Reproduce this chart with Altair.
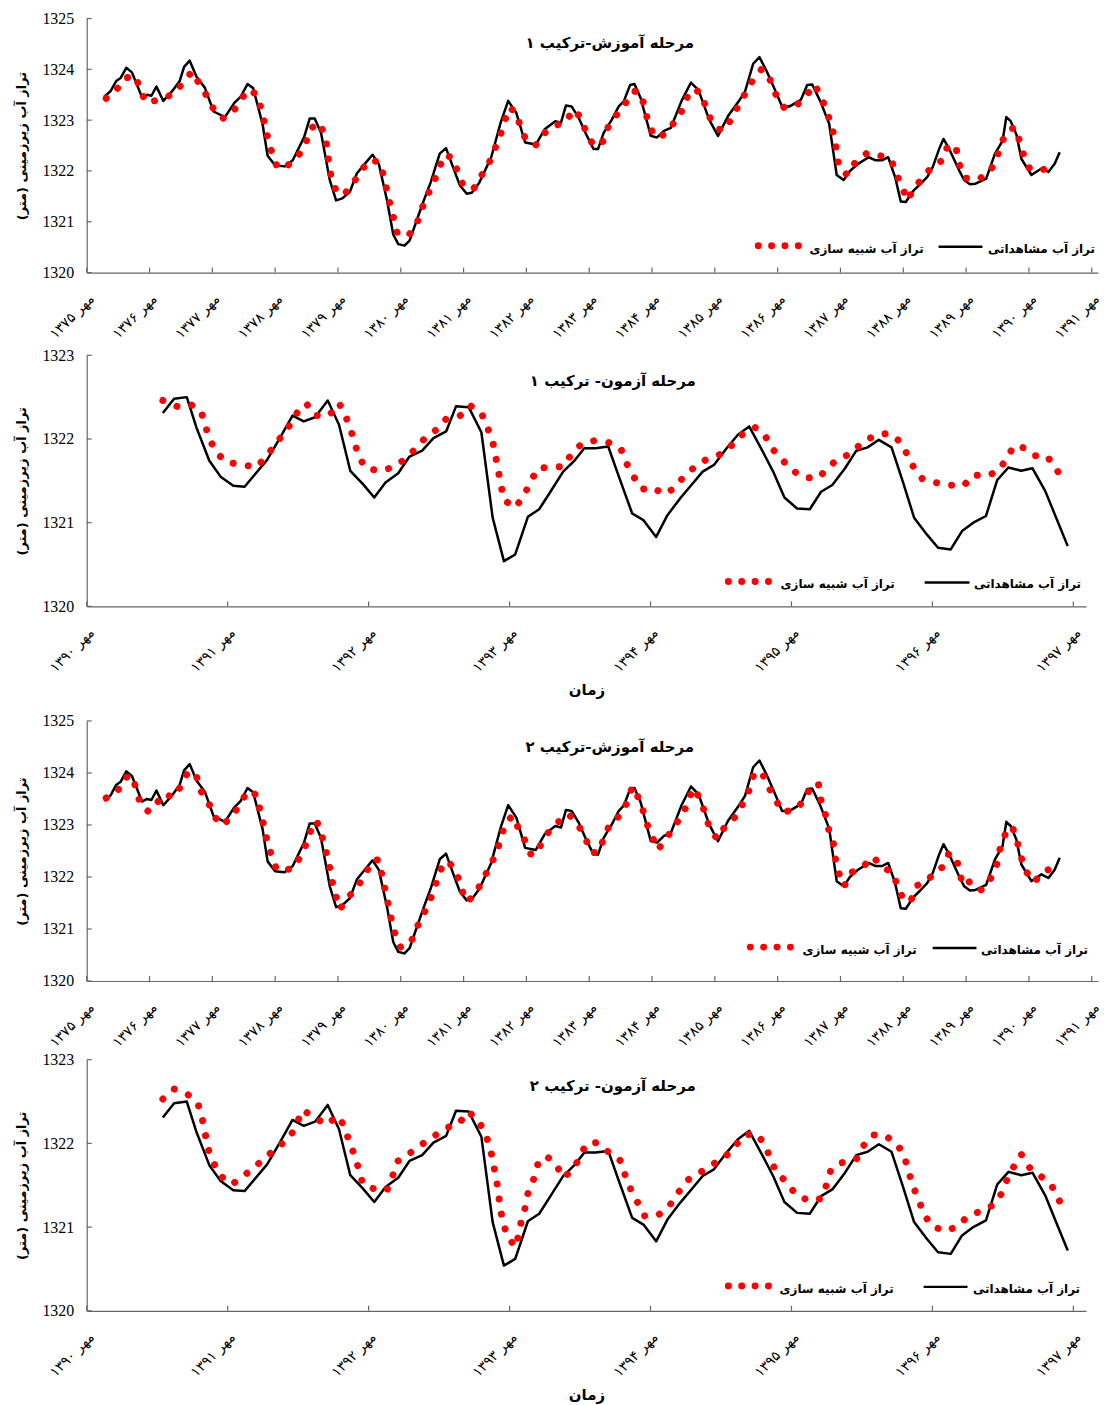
import altair as alt
import pandas as pd

FONT_NUM = "Liberation Serif"
FONT_FA = "DejaVu Sans"
AXIS_GRAY = "#666666"
RED = "#ff0000"

# ---------------- data ----------------
train_years = list(range(1375, 1392))
train_labels = ["مهر ۱۳۷۵", "مهر ۱۳۷۶", "مهر ۱۳۷۷", "مهر ۱۳۷۸", "مهر ۱۳۷۹", "مهر ۱۳۸۰",
                "مهر ۱۳۸۱", "مهر ۱۳۸۲", "مهر ۱۳۸۳", "مهر ۱۳۸۴", "مهر ۱۳۸۵", "مهر ۱۳۸۶",
                "مهر ۱۳۸۷", "مهر ۱۳۸۸", "مهر ۱۳۸۹", "مهر ۱۳۹۰", "مهر ۱۳۹۱"]
test_years = list(range(1390, 1398))
test_labels = ["مهر ۱۳۹۰", "مهر ۱۳۹۱", "مهر ۱۳۹۲", "مهر ۱۳۹۳", "مهر ۱۳۹۴", "مهر ۱۳۹۵",
               "مهر ۱۳۹۶", "مهر ۱۳۹۷"]
train_yticks = [1320, 1321, 1322, 1323, 1324, 1325]
test_yticks = [1320, 1321, 1322, 1323]

# observed level, training period (shared by panels 1 and 3)
obs_train_t = [1375.28, 1375.38, 1375.47, 1375.54, 1375.63, 1375.72, 1375.88, 1375.96, 1376.03, 1376.11,
               1376.22, 1376.36, 1376.48, 1376.55, 1376.64, 1376.75, 1376.88, 1377.02, 1377.20, 1377.35,
               1377.45, 1377.56, 1377.65, 1377.80, 1377.88, 1378.00, 1378.15, 1378.28, 1378.46, 1378.55,
               1378.63, 1378.73, 1378.87, 1378.97, 1379.07, 1379.19, 1379.30, 1379.42, 1379.55, 1379.65,
               1379.78, 1379.88, 1379.96, 1380.06, 1380.14, 1380.26, 1380.37, 1380.48, 1380.62, 1380.72,
               1380.83, 1380.94, 1381.05, 1381.13, 1381.25, 1381.44, 1381.59, 1381.71, 1381.84, 1381.98,
               1382.15, 1382.29, 1382.46, 1382.55, 1382.63, 1382.72, 1382.83, 1382.94, 1383.07, 1383.14,
               1383.23, 1383.36, 1383.47, 1383.55, 1383.65, 1383.72, 1383.82, 1383.98, 1384.08, 1384.19,
               1384.30, 1384.47, 1384.62, 1384.74, 1384.91, 1385.05, 1385.21, 1385.38, 1385.48, 1385.61,
               1385.71, 1385.83, 1385.97, 1386.07, 1386.19, 1386.37, 1386.47, 1386.55, 1386.68, 1386.82,
               1386.94, 1387.05, 1387.15, 1387.28, 1387.45, 1387.56, 1387.66, 1387.76, 1387.87, 1387.96,
               1388.04, 1388.16, 1388.27, 1388.38, 1388.47, 1388.57, 1388.64, 1388.72, 1388.89, 1388.97,
               1389.06, 1389.15, 1389.32, 1389.46, 1389.58, 1389.64, 1389.71, 1389.80, 1389.88, 1390.04,
               1390.20, 1390.31, 1390.41, 1390.49]
obs_train_v = [1323.46, 1323.57, 1323.77, 1323.83, 1324.03, 1323.94, 1323.45, 1323.50, 1323.48, 1323.66,
               1323.38, 1323.57, 1323.77, 1324.05, 1324.17, 1323.85, 1323.64, 1323.17, 1323.06, 1323.34,
               1323.46, 1323.71, 1323.63, 1322.92, 1322.30, 1322.11, 1322.09, 1322.21, 1322.66, 1323.03,
               1323.03, 1322.75, 1321.82, 1321.42, 1321.46, 1321.59, 1321.95, 1322.13, 1322.32, 1322.14,
               1321.43, 1320.75, 1320.56, 1320.53, 1320.63, 1321.05, 1321.43, 1321.79, 1322.34, 1322.45,
               1322.08, 1321.72, 1321.55, 1321.57, 1321.77, 1322.27, 1322.95, 1323.38, 1323.14, 1322.56,
               1322.52, 1322.82, 1322.98, 1322.95, 1323.29, 1323.27, 1323.05, 1322.75, 1322.43, 1322.43,
               1322.75, 1323.01, 1323.27, 1323.37, 1323.69, 1323.71, 1323.43, 1322.69, 1322.66, 1322.79,
               1322.85, 1323.38, 1323.74, 1323.59, 1323.01, 1322.69, 1323.08, 1323.37, 1323.56, 1324.11,
               1324.24, 1323.95, 1323.56, 1323.27, 1323.27, 1323.40, 1323.69, 1323.70, 1323.37, 1322.93,
               1321.92, 1321.82, 1322.00, 1322.14, 1322.27, 1322.21, 1322.21, 1322.27, 1321.88, 1321.40,
               1321.39, 1321.61, 1321.74, 1321.88, 1322.08, 1322.43, 1322.63, 1322.46, 1322.01, 1321.82,
               1321.74, 1321.75, 1321.85, 1322.34, 1322.59, 1323.06, 1322.98, 1322.72, 1322.24, 1321.92,
               1322.05, 1321.98, 1322.14, 1322.37]

# simulated level, training, combination 1
sim_train1_t = [1375.31, 1375.47, 1375.61, 1375.78, 1375.85, 1375.95, 1376.11, 1376.26, 1376.40, 1376.54,
                1376.68, 1376.79, 1376.91, 1377.01, 1377.16, 1377.33, 1377.45, 1377.60, 1377.73, 1377.78,
                1377.84, 1377.89, 1377.96, 1378.04, 1378.21, 1378.38, 1378.49, 1378.57, 1378.70, 1378.80,
                1378.83, 1378.86, 1378.90, 1378.99, 1379.10, 1379.24, 1379.36, 1379.51, 1379.66, 1379.73,
                1379.78, 1379.83, 1379.89, 1379.95, 1380.13, 1380.26, 1380.33, 1380.43, 1380.53, 1380.61,
                1380.70, 1380.82, 1380.91, 1381.00, 1381.16, 1381.28, 1381.40, 1381.49, 1381.58, 1381.65,
                1381.73, 1381.84, 1381.91, 1382.00, 1382.15, 1382.29, 1382.46, 1382.62, 1382.75, 1382.88,
                1382.95, 1383.08, 1383.23, 1383.30, 1383.44, 1383.58, 1383.71, 1383.81, 1383.88, 1383.93,
                1384.02, 1384.13, 1384.29, 1384.45, 1384.52, 1384.64, 1384.77, 1384.86, 1384.94, 1385.07,
                1385.19, 1385.27, 1385.39, 1385.50, 1385.62, 1385.75, 1385.88, 1385.97, 1386.10, 1386.30,
                1386.47, 1386.59, 1386.69, 1386.78, 1386.85, 1386.91, 1386.94, 1386.98, 1387.11, 1387.24,
                1387.42, 1387.60, 1387.81, 1387.89, 1387.99, 1388.06, 1388.18, 1388.33, 1388.48, 1388.64,
                1388.71, 1388.84, 1388.89, 1388.98, 1389.19, 1389.38, 1389.49, 1389.55, 1389.67, 1389.78,
                1389.85, 1389.92, 1390.01, 1390.20, 1390.37]
sim_train1_v = [1323.43, 1323.59, 1323.83, 1323.87, 1323.59, 1323.34, 1323.39, 1323.45, 1323.53, 1323.75,
                1323.96, 1323.72, 1323.48, 1323.24, 1323.03, 1323.16, 1323.41, 1323.61, 1323.46, 1323.19,
                1322.90, 1322.61, 1322.32, 1322.05, 1322.12, 1322.32, 1322.56, 1322.84, 1322.95, 1322.69,
                1322.40, 1322.11, 1321.82, 1321.56, 1321.54, 1321.75, 1322.00, 1322.22, 1322.17, 1321.90,
                1321.61, 1321.34, 1321.05, 1320.75, 1320.74, 1320.98, 1321.25, 1321.53, 1321.79, 1322.06,
                1322.32, 1322.26, 1321.97, 1321.69, 1321.65, 1321.90, 1322.14, 1322.41, 1322.68, 1322.97,
                1323.25, 1323.14, 1322.85, 1322.59, 1322.51, 1322.75, 1322.90, 1322.95, 1323.21, 1323.03,
                1322.75, 1322.48, 1322.59, 1322.86, 1323.11, 1323.34, 1323.57, 1323.55, 1323.27, 1322.99,
                1322.72, 1322.65, 1322.86, 1323.10, 1323.37, 1323.61, 1323.55, 1323.25, 1322.99, 1322.82,
                1322.82, 1323.08, 1323.30, 1323.57, 1323.82, 1324.01, 1323.79, 1323.51, 1323.25, 1323.29,
                1323.51, 1323.70, 1323.45, 1323.19, 1322.92, 1322.64, 1322.35, 1322.06, 1321.92, 1322.18,
                1322.35, 1322.32, 1322.21, 1321.94, 1321.66, 1321.42, 1321.67, 1321.90, 1322.11, 1322.22,
                1322.52, 1322.45, 1322.14, 1321.86, 1321.83, 1321.98, 1322.26, 1322.53, 1322.80, 1322.86,
                1322.59, 1322.30, 1322.05, 1322.01, 1322.11]

# simulated level, training, combination 2
sim_train2_t = [1375.31, 1375.49, 1375.61, 1375.73, 1375.79, 1375.86, 1375.99, 1376.15, 1376.24, 1376.37,
                1376.51, 1376.61, 1376.74, 1376.80, 1376.93, 1377.02, 1377.15, 1377.32, 1377.44, 1377.57,
                1377.71, 1377.76, 1377.82, 1377.87, 1377.94, 1378.02, 1378.12, 1378.31, 1378.42, 1378.52,
                1378.59, 1378.66, 1378.74, 1378.80, 1378.86, 1378.90, 1378.96, 1379.03, 1379.15, 1379.31,
                1379.44, 1379.54, 1379.65, 1379.70, 1379.75, 1379.80, 1379.85, 1379.91, 1380.00, 1380.17,
                1380.26, 1380.37, 1380.47, 1380.55, 1380.62, 1380.75, 1380.89, 1380.95, 1381.05, 1381.19,
                1381.30, 1381.42, 1381.52, 1381.59, 1381.66, 1381.78, 1381.88, 1381.99, 1382.08, 1382.22,
                1382.35, 1382.50, 1382.67, 1382.82, 1382.94, 1383.02, 1383.15, 1383.23, 1383.33, 1383.51,
                1383.61, 1383.69, 1383.78, 1383.86, 1383.93, 1384.09, 1384.23, 1384.36, 1384.50, 1384.57,
                1384.67, 1384.77, 1384.85, 1384.92, 1385.04, 1385.16, 1385.33, 1385.45, 1385.55, 1385.62,
                1385.74, 1385.84, 1385.96, 1386.08, 1386.28, 1386.44, 1386.54, 1386.65, 1386.69, 1386.76,
                1386.81, 1386.89, 1386.92, 1386.98, 1387.06, 1387.16, 1387.36, 1387.52, 1387.66, 1387.83,
                1387.91, 1388.01, 1388.12, 1388.21, 1388.39, 1388.51, 1388.63, 1388.72, 1388.84, 1388.89,
                1388.95, 1389.07, 1389.24, 1389.40, 1389.49, 1389.54, 1389.62, 1389.73, 1389.81, 1389.87,
                1389.94, 1390.08, 1390.24, 1390.43]
sim_train2_v = [1323.52, 1323.65, 1323.91, 1323.95, 1323.66, 1323.39, 1323.25, 1323.47, 1323.60, 1323.53,
                1323.76, 1324.02, 1323.98, 1323.68, 1323.46, 1323.18, 1322.99, 1323.16, 1323.41, 1323.66,
                1323.57, 1323.28, 1322.99, 1322.70, 1322.42, 1322.15, 1322.11, 1322.19, 1322.44, 1322.70,
                1322.99, 1323.08, 1322.81, 1322.54, 1322.24, 1321.95, 1321.67, 1321.38, 1321.59, 1321.81,
                1322.06, 1322.31, 1322.33, 1322.04, 1321.75, 1321.48, 1321.18, 1320.90, 1320.64, 1320.77,
                1321.04, 1321.30, 1321.56, 1321.84, 1322.12, 1322.31, 1322.09, 1321.81, 1321.52, 1321.67,
                1321.94, 1322.20, 1322.46, 1322.73, 1323.02, 1323.18, 1322.92, 1322.67, 1322.41, 1322.60,
                1322.86, 1323.05, 1323.21, 1323.01, 1322.75, 1322.47, 1322.47, 1322.74, 1323.02, 1323.20,
                1323.46, 1323.74, 1323.53, 1323.26, 1322.99, 1322.52, 1322.74, 1322.99, 1323.21, 1323.48,
                1323.71, 1323.48, 1323.20, 1322.92, 1322.73, 1322.97, 1323.16, 1323.42, 1323.68, 1323.97,
                1324.03, 1323.76, 1323.50, 1323.25, 1323.29, 1323.50, 1323.78, 1323.78, 1323.48, 1323.20,
                1322.92, 1322.63, 1322.35, 1322.06, 1321.82, 1322.08, 1322.20, 1322.39, 1322.19, 1322.09,
                1321.82, 1321.54, 1321.54, 1321.83, 1321.93, 1322.12, 1322.19, 1322.44, 1322.40, 1322.12,
                1321.83, 1321.92, 1321.75, 1321.99, 1322.25, 1322.54, 1322.81, 1322.98, 1322.70, 1322.41,
                1322.13, 1321.90, 1322.11, 1322.19]

# observed level, test period (shared by panels 2 and 4)
obs_test_t = [1390.54, 1390.62, 1390.71, 1390.78, 1390.87, 1390.95, 1391.04, 1391.12, 1391.20, 1391.28,
              1391.37, 1391.46, 1391.54, 1391.62, 1391.71, 1391.79, 1391.87, 1391.96, 1392.04, 1392.12,
              1392.21, 1392.29, 1392.38, 1392.46, 1392.55, 1392.62, 1392.71, 1392.80, 1392.88, 1392.96,
              1393.04, 1393.13, 1393.21, 1393.29, 1393.38, 1393.46, 1393.53, 1393.61, 1393.70, 1393.78,
              1393.87, 1393.95, 1394.04, 1394.12, 1394.21, 1394.29, 1394.37, 1394.45, 1394.54, 1394.62,
              1394.70, 1394.79, 1394.87, 1394.95, 1395.04, 1395.13, 1395.21, 1395.29, 1395.38, 1395.46,
              1395.54, 1395.62, 1395.71, 1395.79, 1395.87, 1395.96, 1396.04, 1396.13, 1396.21, 1396.29,
              1396.38, 1396.46, 1396.54, 1396.63, 1396.71, 1396.80, 1396.88, 1396.96]
obs_test_v = [1322.31, 1322.48, 1322.50, 1322.13, 1321.74, 1321.55, 1321.44, 1321.43, 1321.59, 1321.75,
              1322.01, 1322.28, 1322.21, 1322.26, 1322.46, 1322.17, 1321.62, 1321.46, 1321.30, 1321.48,
              1321.59, 1321.79, 1321.86, 1322.01, 1322.09, 1322.39, 1322.38, 1322.08, 1321.06, 1320.54,
              1320.62, 1321.07, 1321.16, 1321.37, 1321.61, 1321.74, 1321.89, 1321.89, 1321.91, 1321.53,
              1321.11, 1321.03, 1320.83, 1321.09, 1321.29, 1321.45, 1321.61, 1321.69, 1321.89, 1322.05,
              1322.15, 1321.87, 1321.61, 1321.30, 1321.17, 1321.16, 1321.37, 1321.45, 1321.65, 1321.86,
              1321.90, 1321.99, 1321.90, 1321.49, 1321.06, 1320.86, 1320.70, 1320.68, 1320.90, 1321.00,
              1321.08, 1321.51, 1321.66, 1321.62, 1321.65, 1321.38, 1321.05, 1320.72]

# simulated level, test, combination 1
sim_test1_t = [1390.54, 1390.64, 1390.74, 1390.81, 1390.84, 1390.87, 1390.92, 1390.99, 1391.09, 1391.20,
               1391.27, 1391.33, 1391.40, 1391.46, 1391.51, 1391.56, 1391.62, 1391.72, 1391.79, 1391.83,
               1391.87, 1391.90, 1391.93, 1391.98, 1392.08, 1392.17, 1392.26, 1392.33, 1392.40, 1392.48,
               1392.55, 1392.65, 1392.72, 1392.80, 1392.84, 1392.88, 1392.90, 1392.92, 1392.94, 1392.96,
               1393.04, 1393.10, 1393.15, 1393.20, 1393.28, 1393.38, 1393.44, 1393.51, 1393.60, 1393.70,
               1393.79, 1393.83, 1393.88, 1393.94, 1394.02, 1394.09, 1394.17, 1394.23, 1394.31, 1394.40,
               1394.50, 1394.58, 1394.65, 1394.74, 1394.81, 1394.86, 1394.93, 1395.00, 1395.09, 1395.19,
               1395.26, 1395.33, 1395.43, 1395.50, 1395.59, 1395.69, 1395.77, 1395.82, 1395.87, 1395.93,
               1396.02, 1396.12, 1396.22, 1396.29, 1396.39, 1396.47, 1396.53, 1396.58, 1396.66, 1396.73,
               1396.81, 1396.88, 1396.93]
sim_test1_v = [1322.46, 1322.39, 1322.41, 1322.34, 1322.17, 1322.00, 1321.84, 1321.72, 1321.70, 1321.66,
               1321.78, 1321.92, 1322.07, 1322.21, 1322.37, 1322.42, 1322.28, 1322.28, 1322.43, 1322.30,
               1322.13, 1321.96, 1321.79, 1321.65, 1321.62, 1321.66, 1321.76, 1321.88, 1322.01, 1322.11,
               1322.24, 1322.28, 1322.40, 1322.31, 1322.15, 1321.97, 1321.80, 1321.62, 1321.44, 1321.27,
               1321.18, 1321.32, 1321.49, 1321.65, 1321.66, 1321.67, 1321.82, 1321.94, 1321.98, 1321.96,
               1321.88, 1321.71, 1321.55, 1321.40, 1321.42, 1321.34, 1321.41, 1321.54, 1321.66, 1321.76,
               1321.82, 1321.93, 1322.05, 1322.14, 1322.05, 1321.89, 1321.76, 1321.63, 1321.54, 1321.53,
               1321.66, 1321.76, 1321.83, 1321.96, 1322.04, 1322.07, 1321.97, 1321.82, 1321.65, 1321.52,
               1321.48, 1321.45, 1321.44, 1321.57, 1321.56, 1321.62, 1321.78, 1321.92, 1321.89, 1321.80,
               1321.80, 1321.64, 1321.49]

# simulated level, test, combination 2
sim_test2_t = [1390.54, 1390.62, 1390.72, 1390.79, 1390.82, 1390.84, 1390.86, 1390.90, 1390.95, 1391.03,
               1391.12, 1391.20, 1391.28, 1391.36, 1391.44, 1391.49, 1391.53, 1391.61, 1391.70, 1391.78,
               1391.83, 1391.86, 1391.90, 1391.93, 1391.96, 1392.05, 1392.13, 1392.17, 1392.20, 1392.29,
               1392.37, 1392.46, 1392.54, 1392.64, 1392.70, 1392.77, 1392.82, 1392.86, 1392.88, 1392.90,
               1392.92, 1392.93, 1392.95, 1392.98, 1393.04, 1393.06, 1393.08, 1393.11, 1393.13, 1393.17,
               1393.20, 1393.26, 1393.33, 1393.38, 1393.44, 1393.50, 1393.54, 1393.62, 1393.70, 1393.79,
               1393.82, 1393.86, 1393.91, 1393.96, 1394.06, 1394.14, 1394.20, 1394.26, 1394.35, 1394.44,
               1394.53, 1394.60, 1394.67, 1394.75, 1394.81, 1394.85, 1394.89, 1394.97, 1395.03, 1395.13,
               1395.21, 1395.25, 1395.28, 1395.36, 1395.46, 1395.51, 1395.57, 1395.66, 1395.75, 1395.80,
               1395.83, 1395.86, 1395.90, 1395.94, 1395.99, 1396.09, 1396.18, 1396.25, 1396.34, 1396.43,
               1396.49, 1396.53, 1396.58, 1396.63, 1396.69, 1396.76, 1396.84, 1396.89, 1396.93]
sim_test2_v = [1322.53, 1322.65, 1322.58, 1322.47, 1322.29, 1322.12, 1321.94, 1321.77, 1321.61, 1321.51,
               1321.62, 1321.73, 1321.85, 1321.96, 1322.07, 1322.23, 1322.40, 1322.32, 1322.22, 1322.33,
               1322.20, 1322.03, 1321.86, 1321.69, 1321.51, 1321.45, 1321.44, 1321.61, 1321.78, 1321.88,
               1321.98, 1322.08, 1322.18, 1322.23, 1322.38, 1322.30, 1322.14, 1321.97, 1321.80, 1321.62,
               1321.44, 1321.26, 1321.08, 1320.91, 1320.76, 1320.88, 1321.05, 1321.23, 1321.40, 1321.57,
               1321.75, 1321.85, 1321.75, 1321.59, 1321.67, 1321.83, 1321.99, 1322.01, 1321.90, 1321.79,
               1321.62, 1321.45, 1321.29, 1321.13, 1321.15, 1321.27, 1321.42, 1321.56, 1321.65, 1321.75,
               1321.84, 1321.97, 1322.10, 1322.12, 1321.99, 1321.82, 1321.66, 1321.53, 1321.39, 1321.31,
               1321.34, 1321.51, 1321.69, 1321.77, 1321.81, 1321.97, 1322.10, 1322.10, 1321.99, 1321.85,
               1321.67, 1321.50, 1321.33, 1321.16, 1321.02, 1320.95, 1321.01, 1321.13, 1321.19, 1321.26,
               1321.40, 1321.57, 1321.73, 1321.87, 1321.71, 1321.62, 1321.51, 1321.36, 1321.19]

obs_label = "تراز آب مشاهداتی"
sim_label = "تراز آب شبیه سازی"
y_title = "تراز آب زیرزمینی (متر)"
x_title = "زمان"
titles = ["مرحله آموزش-ترکیب ۱", "مرحله آزمون- ترکیب ۱", "مرحله آموزش-ترکیب ۲", "مرحله آزمون- ترکیب ۲"]


def text_layer(s, x, y, size, align):
    return alt.Chart(pd.DataFrame({"s": [s]})).mark_text(
        font=FONT_FA, fontSize=size, fontWeight="bold", align=align, baseline="middle",
        color="black").encode(text="s:N", x=alt.value(x), y=alt.value(y))


def panel(obs_t, obs_v, sim_t, sim_v, years, labels, xmax, ydom, yticks, W, H,
          title, title_xy, show_xtitle, leg):
    xs = alt.Scale(domain=[years[0], xmax], nice=False, zero=False)
    ys = alt.Scale(domain=ydom, nice=False, zero=False)
    arr = "[" + ",".join("'" + s + "'" for s in labels) + "]"
    label_expr = arr + "[round(datum.value) - " + str(years[0]) + "]"
    xaxis_kw = dict(values=years, labelExpr=label_expr, labelAngle=-45, labelAlign="right",
                    labelBaseline="top", labelPadding=19, ticks=False, grid=False,
                    domainColor=AXIS_GRAY, domainWidth=1.2, labelFont=FONT_FA, labelFontSize=14,
                    labelColor="black", labelOverlap=False, labelFlush=False)
    if show_xtitle:
        xaxis = alt.Axis(title=x_title, titleFont=FONT_FA, titleFontSize=15, titleFontWeight="bold",
                         titleColor="black", titlePadding=8, **xaxis_kw)
    else:
        xaxis = alt.Axis(title=None, **xaxis_kw)
    yaxis = alt.Axis(values=yticks, format="d", ticks=False, grid=False, domainColor=AXIS_GRAY,
                     domainWidth=1.2, labelFont=FONT_NUM, labelFontSize=16, labelColor="black",
                     labelPadding=13, title=y_title, titleFont=FONT_FA, titleFontSize=13,
                     titleFontWeight="bold", titleColor="black", titlePadding=13)
    X = alt.X("t:Q", scale=xs, axis=xaxis)
    Y = alt.Y("v:Q", scale=ys, axis=yaxis)

    obs_df = pd.DataFrame({"t": obs_t, "v": obs_v})
    sim_df = pd.DataFrame({"t": sim_t, "v": sim_v})

    obs_line = alt.Chart(obs_df).mark_line(color="black", strokeWidth=2.5, strokeJoin="round").encode(
        x=X, y=Y)
    sim_line = alt.Chart(sim_df).mark_line(color=RED, strokeWidth=7, strokeDash=[0.01, 15.3],
                                           strokeCap="round", strokeJoin="round").encode(x=X, y=Y)
    xt = alt.Chart(pd.DataFrame({"t": years})).mark_rule(color=AXIS_GRAY, strokeWidth=1.2).encode(
        x=X, y=alt.value(H - 5), y2=alt.value(H))
    yt = alt.Chart(pd.DataFrame({"v": yticks})).mark_rule(color=AXIS_GRAY, strokeWidth=1.2).encode(
        y=Y, x=alt.value(0), x2=alt.value(5))

    ttl = text_layer(title, title_xy[0], title_xy[1], 15, "center")

    ly = leg["y"]
    t_obs = text_layer(obs_label, leg["obs_r"], ly, 12, "right")
    t_sim = text_layer(sim_label, leg["sim_r"], ly, 12, "right")
    leg_line = alt.Chart(pd.DataFrame({"a": [0]})).mark_rule(color="black", strokeWidth=2.5).encode(
        x=alt.value(leg["line"][0]), x2=alt.value(leg["line"][1]), y=alt.value(ly - 2))
    leg_dots = alt.Chart(pd.DataFrame({"a": [0]})).mark_rule(
        color=RED, strokeWidth=7, strokeDash=[0.01, 13.4], strokeCap="round").encode(
        x=alt.value(leg["dots"][0]), x2=alt.value(leg["dots"][1]), y=alt.value(ly - 3))

    return alt.layer(obs_line, sim_line, xt, yt, ttl, t_obs, t_sim, leg_line, leg_dots).properties(
        width=W, height=H)


W1, W2 = 1015, 1003
p1 = panel(obs_train_t, obs_train_v, sim_train1_t, sim_train1_v, train_years, train_labels, 1391.1,
           [1320, 1325], train_yticks, W1, 255, titles[0], (525, 25), False,
           {"y": 231, "obs_r": W1 - 3, "sim_r": W1 - 175, "line": (W1 - 160, W1 - 116),
            "dots": (W1 - 341, W1 - 300.5)})
p2 = panel(obs_test_t, obs_test_v, sim_test1_t, sim_test1_v, test_years, test_labels, 1397.09,
           [1320, 1323], test_yticks, W2, 252, titles[1], (528, 26), True,
           {"y": 230, "obs_r": W2 - 5, "sim_r": W2 - 192, "line": (W2 - 162, W2 - 117),
            "dots": (W2 - 359, W2 - 318.5)})
p3 = panel(obs_train_t, obs_train_v, sim_train2_t, sim_train2_v, train_years, train_labels, 1391.1,
           [1320, 1325], train_yticks, W1, 261, titles[2], (525, 26), False,
           {"y": 230, "obs_r": W1 - 10, "sim_r": W1 - 182, "line": (W1 - 166, W1 - 122),
            "dots": (W1 - 349, W1 - 308.5)})
p4 = panel(obs_test_t, obs_test_v, sim_test2_t, sim_test2_v, test_years, test_labels, 1397.09,
           [1320, 1323], test_yticks, W2, 252, titles[3], (528, 26), True,
           {"y": 230, "obs_r": W2 - 6, "sim_r": W2 - 193, "line": (W2 - 163, W2 - 119),
            "dots": (W2 - 359, W2 - 318.5)})

chart = alt.vconcat(
    alt.vconcat(p1, p2, spacing=6),
    alt.vconcat(p3, p4, spacing=2),
    spacing=15,
).properties(padding={"left": 8, "top": 0, "right": 0, "bottom": 0}).configure_view(strokeWidth=0)

chart.save("out.html", embed_options={"renderer": "svg", "actions": False})
